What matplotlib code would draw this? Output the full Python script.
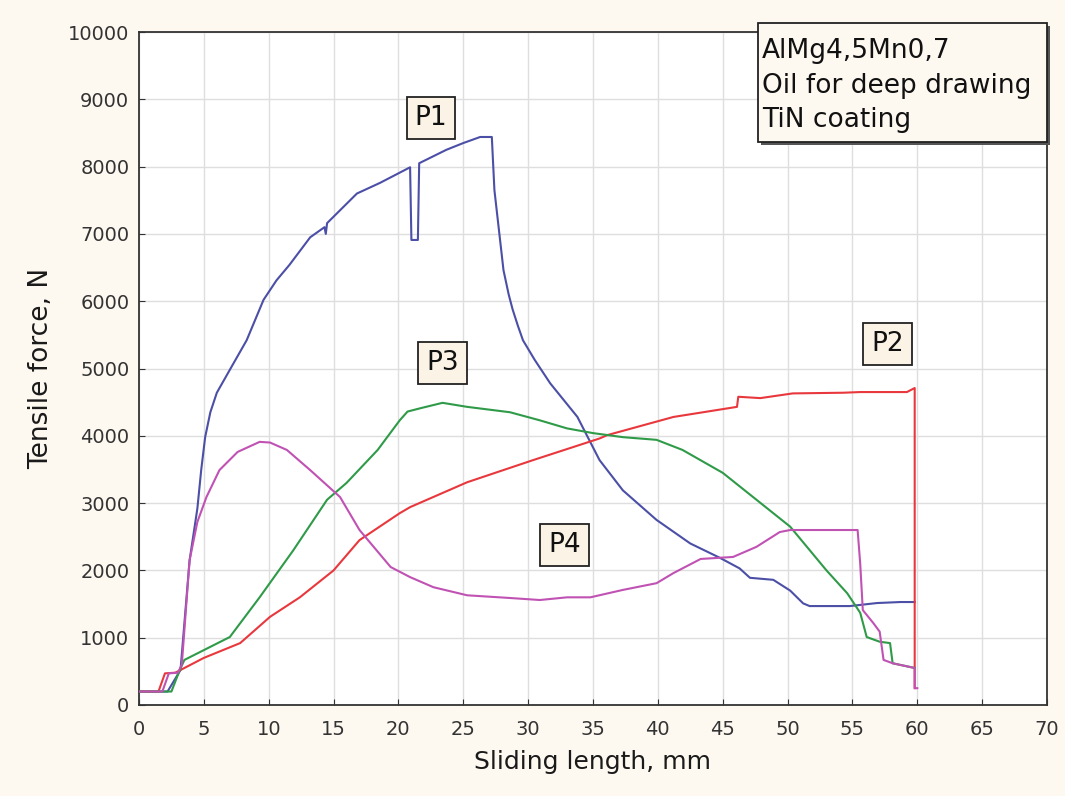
import matplotlib
matplotlib.use("Agg")
import matplotlib.pyplot as plt
from matplotlib.patches import Rectangle

plt.rcParams['font.family'] = ['DejaVu Sans']

# P1 (blue)
p1_x = [0, 2.2, 3.2, 3.9, 4.5, 4.8, 5.1, 5.5, 6.0, 7.0, 8.3, 9.6, 10.6, 11.6, 13.2, 14.3, 14.4, 14.5,
        16.8, 18.6, 20.9, 21.0, 21.5, 21.6, 23.7, 25.0, 26.3, 27.2, 27.4, 28.1, 28.5, 28.8, 29.2, 29.6,
        30.5, 31.7, 33.8, 35.5, 37.3, 39.9, 42.5, 44.8, 46.3, 47.1, 48.9, 50.2, 51.2, 51.7, 54.8, 56.9,
        58.7, 59.8]
p1_y = [200, 200, 520, 2150, 2920, 3500, 3980, 4350, 4640, 4980, 5420, 6020, 6310, 6540, 6950, 7100, 7000, 7160,
        7600, 7760, 7990, 6910, 6910, 8050, 8250, 8350, 8440, 8440, 7650, 6460, 6100, 5880, 5640, 5420,
        5130, 4780, 4280, 3640, 3190, 2750, 2400, 2185, 2030, 1890, 1860, 1700, 1510, 1470, 1470, 1515,
        1530, 1530]

# P2 (red)
p2_x = [0, 1.5, 2.0, 2.8, 3.2, 5.0, 7.8, 10.1, 12.4, 15.0, 17.0, 20.1, 20.9, 25.3, 30.4, 35.5,
        36.1, 41.2, 46.1, 46.2, 47.9, 50.4, 54.3, 55.6, 59.2, 59.8, 59.8]
p2_y = [200, 200, 470, 480, 520, 700, 920, 1310, 1600, 2000, 2450, 2850, 2940, 3310, 3640, 3960,
        4010, 4280, 4430, 4580, 4560, 4630, 4640, 4650, 4650, 4710, 250]

# P3 (green)
p3_x = [0, 2.5, 3.1, 3.5, 7.0, 9.3, 11.9, 14.5, 16.0, 18.4, 20.1, 20.7, 21.7, 23.4, 25.3, 28.6,
        30.9, 33.0, 35.0, 37.3, 39.9, 41.9, 45.0, 47.6, 50.2, 53.0, 54.6, 55.6, 56.1, 57.1, 57.9,
        58.1, 59.8]
p3_y = [200, 200, 500, 670, 1010, 1600, 2300, 3050, 3300, 3790, 4230, 4360, 4410, 4490, 4430, 4350,
        4230, 4110, 4040, 3980, 3940, 3790, 3450, 3050, 2650, 2000, 1660, 1370, 1010, 940, 920,
        620, 550]

# P4 (magenta)
p4_x = [0, 1.8, 2.3, 3.0, 3.3, 3.9, 4.5, 5.2, 6.2, 7.6, 9.3, 10.1, 11.4, 13.2, 15.5, 17.0, 19.4,
        20.9, 22.7, 25.3, 28.6, 30.9, 33.0, 34.8, 37.3, 39.9, 41.2, 43.3, 45.8, 47.6, 49.4, 50.2,
        55.4, 55.6, 55.8, 56.6, 57.1, 57.4, 58.1, 59.8, 59.8, 60.0]
p4_y = [200, 200, 470, 480, 600, 2150, 2720, 3090, 3490, 3760, 3910, 3900, 3790, 3490, 3090, 2600, 2050,
        1900, 1750, 1630, 1590, 1560, 1600, 1600, 1710, 1810, 1960, 2170, 2200, 2350, 2570, 2600,
        2600, 2100, 1410, 1220, 1090, 670, 620, 550, 250, 250]

x_ticks = list(range(0, 71, 5))
y_ticks = list(range(0, 10001, 1000))

series = [("P1", p1_x, p1_y, "#4b4fa6"),
          ("P2", p2_x, p2_y, "#e8383d"),
          ("P3", p3_x, p3_y, "#2f9a48"),
          ("P4", p4_x, p4_y, "#c052b4")]

labels = {"P1": (22.5, 8720), "P2": (57.7, 5360), "P3": (23.4, 5080), "P4": (32.8, 2380)}

W, H = 1065, 796
fig = plt.figure(figsize=(W / 100, H / 100), dpi=100, facecolor="#fdf8f0")
ax = fig.add_axes([139 / W, 1 - 705 / H, (1047 - 139) / W, (705 - 32) / H])
ax.set_facecolor("white")

for name, xs, ys, c in series:
    ax.plot(xs, ys, color=c, lw=1.5, zorder=3)

ax.set_xlim(0, 70)
ax.set_ylim(0, 10000)
ax.set_xticks(x_ticks)
ax.set_yticks(y_ticks)
ax.tick_params(direction="in", length=4, labelsize=14, colors="#333333")
ax.tick_params(axis="x", pad=11)
ax.tick_params(axis="y", pad=7)
ax.grid(True, color="#dedede", lw=1, zorder=0)
for s in ax.spines.values():
    s.set_color("#333333")
    s.set_linewidth(1.3)

ax.set_xlabel("Sliding length, mm", fontsize=18, labelpad=8, color="#1a1a1a")
ax.set_ylabel("Tensile force, N", fontsize=19, labelpad=10, color="#1a1a1a")

box = dict(boxstyle="square,pad=0.3", facecolor="#fbf4e6", edgecolor="#222222", lw=1.3)
for name, (lx, ly) in labels.items():
    ax.text(lx, ly, name, fontsize=19, ha="center", va="center", bbox=box, zorder=5,
            color="#111111")

# info box with a small shadow
x0, y0, x1, y1 = 758, 23, 1047, 142
fig.patches.append(Rectangle(((x0 + 3) / W, 1 - (y1 + 3) / H), (x1 - x0) / W, (y1 - y0) / H,
                             transform=fig.transFigure, facecolor="#555555", edgecolor="none",
                             zorder=9))
fig.patches.append(Rectangle((x0 / W, 1 - y1 / H), (x1 - x0) / W, (y1 - y0) / H,
                             transform=fig.transFigure, facecolor="#fdf8f0", edgecolor="#222222",
                             lw=1.3, zorder=10))
fig.text((x0 + 4) / W, 1 - 127 / H, "AlMg4,5Mn0,7\nOil for deep drawing\nTiN coating",
         fontsize=19, ha="left", va="baseline", linespacing=1.42, color="#111111", zorder=11)

fig.savefig("out.png", dpi=100, facecolor=fig.get_facecolor())
